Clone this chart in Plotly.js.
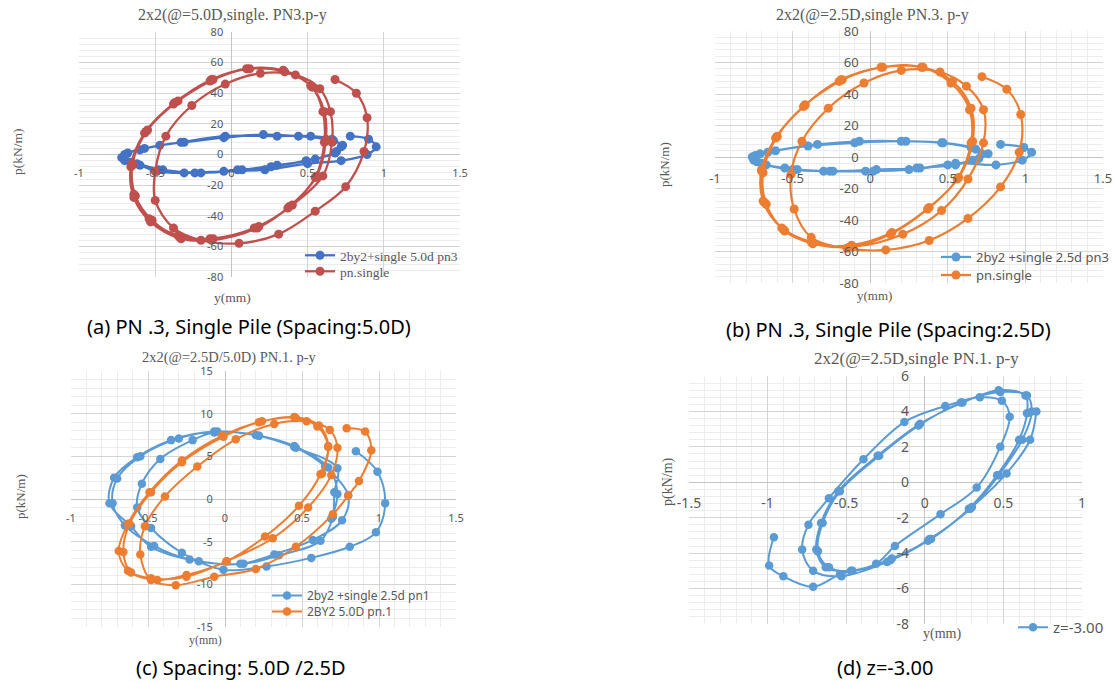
<!DOCTYPE html>
<html>
<head>
<meta charset="utf-8">
<script src="https://cdn.plot.ly/plotly-3.0.1.min.js"></script>
<style>html,body{margin:0;padding:0;background:#fff;}#chart{width:1115px;height:681px;}</style>
</head>
<body>
<div id="chart"></div>
<script>
// ---------- DATA ----------
// Panel (a): 2x2(@=5.0D,single. PN3.p-y
const a_blueName = '2by2+single 5.0d pn3';
const a_blue_x = [0.78,0.9,0.95,0.89,0.72,0.5,0.22,-0.05,-0.31,-0.49,-0.6,-0.7,-0.7,-0.6,-0.47,-0.31,-0.05,0.21,0.44,0.67,0.73,0.69,0.55,0.3,0.07,-0.2,-0.45,-0.62,-0.72,-0.68,-0.57,-0.33,-0.04,0.3,0.52,0.66,0.72,0.68,0.49,0.26,0.04,-0.24,-0.48,-0.66,-0.7];
const a_blue_y = [12,10,5,0,-4,-6,-10,-11,-12,-11,-7,-4,0,3,6,8,11,13,12,9,6,2,-3,-7,-10,-12,-10,-6,-2,1,4,8,12,12,12,10,5,1,-4,-8,-10,-12,-10,-5,-1];
const a_redName = 'pn.single';
const a_red_x = [0.68,0.82,0.89,0.87,0.75,0.55,0.31,0.05,-0.2,-0.38,-0.5,-0.5,-0.43,-0.26,-0.04,0.19,0.42,0.58,0.65,0.66,0.6,0.4,0.18,-0.12,-0.34,-0.52,-0.63,-0.65,-0.56,-0.37,-0.14,0.1,0.34,0.52,0.61,0.62,0.56,0.38,0.17,-0.13,-0.33,-0.53,-0.64,-0.66,-0.57,-0.38,-0.13,0.12,0.35,0.53,0.6,0.61,0.55,0.37,0.15,-0.14,-0.35,-0.54,-0.64,-0.65,-0.55,-0.35,-0.12];
const a_red_y = [49,40,24,2,-21,-37,-52,-58,-56,-48,-30,-11,12,32,46,53,52,43,28,8,-14,-33,-47,-55,-54,-43,-27,-7,15,34,48,56,55,45,28,10,-14,-34,-48,-56,-55,-44,-28,-8,14,33,49,56,54,44,28,8,-15,-35,-48,-55,-53,-42,-26,-6,16,35,49];

// Panel (b): 2x2(@=2.5D,single PN.3. p-y
const b_blueName = '2by2 +single 2.5d pn3';
const b_blue_x = [0.84,0.99,1.04,0.98,0.81,0.55,0.32,0.04,-0.24,-0.47,-0.67,-0.75,-0.71,-0.61,-0.34,-0.07,0.23,0.47,0.68,0.76,0.7,0.55,0.3,0.02,-0.26,-0.5,-0.7,-0.76,-0.66,-0.4,-0.1,0.2,0.46,0.65,0.72,0.66,0.5,0.25,-0.03,-0.3,-0.55,-0.73,-0.74];
const b_blue_y = [8,6,3,-2,-5,-4,-7,-8,-9,-8,-5,-2,2,4,8,10,10,9,5,2,-1,-5,-7,-9,-9,-8,-4,0,3,7,9,10,9,6,2,-2,-5,-8,-9,-9,-7,-3,1];
const b_orangeName = 'pn.single';
const b_orange_x = [0.72,0.88,0.97,0.96,0.84,0.63,0.38,0.1,-0.15,-0.38,-0.49,-0.51,-0.44,-0.27,-0.04,0.2,0.45,0.62,0.73,0.73,0.63,0.46,0.21,-0.11,-0.37,-0.55,-0.67,-0.69,-0.6,-0.42,-0.18,0.08,0.34,0.53,0.65,0.66,0.57,0.38,0.14,-0.12,-0.37,-0.56,-0.68,-0.7,-0.61,-0.43,-0.19,0.07,0.33,0.52,0.64,0.65,0.56,0.37,0.13,-0.13,-0.38,-0.57,-0.69,-0.7,-0.6,-0.42,-0.2];
const b_orange_y = [51,43,27,3,-19,-39,-53,-59,-58,-51,-33,-11,10,31,47,55,54,45,30,9,-14,-34,-49,-57,-55,-47,-30,-10,13,33,49,57,57,48,31,10,-13,-32,-48,-56,-55,-46,-29,-9,12,32,49,57,57,47,30,9,-14,-33,-49,-57,-54,-45,-28,-8,13,33,48];

// Panel (c): 2x2(@=2.5D/5.0D) PN.1. p-y
const c_blueName = '2by2 +single 2.5d pn1';
const c_blue_x = [0.85,0.99,1.04,0.98,0.81,0.56,0.27,-0.01,-0.28,-0.48,-0.57,-0.54,-0.42,-0.21,-0.07,0.22,0.45,0.65,0.8,0.76,0.57,0.32,0.1,-0.17,-0.48,-0.61,-0.75,-0.72,-0.57,-0.35,-0.07,0.22,0.46,0.73,0.71,0.7,0.62,0.35,0.12,-0.23,-0.46,-0.65,-0.73,-0.7,-0.55,-0.3,-0.05,0.2,0.45,0.67,0.73,0.69];
const c_blue_y = [5.6,3.2,-0.5,-3.9,-5.6,-6.9,-7.9,-8.3,-6.3,-3.4,-1,1.8,4.7,6.9,7.8,7.4,6.1,3.8,0.4,-2.5,-4.8,-6.5,-7.6,-7.3,-5.6,-3.2,-0.5,2.5,4.9,6.9,7.9,7.4,6,3.6,0.8,-2.1,-4.9,-6.6,-7.6,-7.1,-5.5,-3.1,-0.5,2.4,5,7.1,7.9,7.5,6.2,3.7,0.6,-2.3];
const c_orangeName = '2BY2 5.0D pn.1';
const c_orange_x = [0.79,0.91,0.95,0.87,0.8,0.7,0.46,0.2,-0.07,-0.32,-0.48,-0.55,-0.52,-0.39,-0.18,0.07,0.32,0.53,0.68,0.73,0.69,0.54,0.31,0.01,-0.25,-0.48,-0.63,-0.69,-0.63,-0.49,-0.28,-0.02,0.24,0.45,0.61,0.67,0.62,0.48,0.26,0.01,-0.25,-0.44,-0.61,-0.66,-0.62,-0.48,-0.28,-0.01,0.22,0.46,0.6,0.67,0.63];
const c_orange_y = [8.3,7.9,5.7,2.1,0.4,-1.8,-5.6,-8.2,-9.1,-10.1,-9.5,-6.5,-3.2,0.3,3.8,7,8.8,9.1,8.1,6,2.8,-1,-4.6,-7.3,-9.1,-9.3,-8.4,-6.1,-2.9,0.8,4.5,7.4,9.1,9.6,8.6,6.2,2.9,-0.8,-4.4,-7.3,-8.9,-9.5,-8.6,-6.2,-2.9,0.8,4.3,7.3,9,9.5,8.5,6.1,3];

// Panel (d): 2x2(@=2.5D,single PN.1. p-y
const d_name = 'z=-3.00';
const d_x = [-0.96,-0.99,-0.9,-0.71,-0.54,-0.31,-0.19,0.1,0.33,0.48,0.54,0.49,0.35,0.13,-0.13,-0.39,-0.61,-0.74,-0.78,-0.71,-0.53,-0.24,0.02,0.28,0.46,0.6,0.65,0.64,0.47,0.24,-0.03,-0.3,-0.55,-0.66,-0.69,-0.63,-0.47,-0.22,0.03,0.29,0.47,0.62,0.68,0.65,0.48,0.23,-0.04,-0.29,-0.54,-0.65,-0.68,-0.61,-0.46,-0.21,0.04,0.3,0.52,0.67,0.71];
const d_y = [-3.1,-4.7,-5.3,-5.9,-5.2,-4.6,-3.6,-1.8,-0.3,2,3.7,4.6,4.8,4.3,3.4,1.3,-0.9,-2.4,-3.8,-5,-5.3,-4.5,-3.3,-1.5,0.4,2.4,3.9,4.9,5.2,4.5,3.3,1.5,-0.5,-2.3,-3.8,-4.8,-5,-4.4,-3.2,-1.5,0.4,2.4,4,4.9,5.1,4.5,3.2,1.5,-0.5,-2.3,-3.9,-4.8,-5,-4.3,-3.2,-1.4,0.5,2.4,4];

// Tick values / labels
const xTicksA = [-1,-0.5,0,0.5,1,1.5];
const xTickTextA = ['-1','-0.5','0','0.5','1','1.5'];
const yTicks80 = [-80,-60,-40,-20,0,20,40,60,80];
const yTickText80 = ['-80','-60','-40','-20','0','20','40','60','80'];
const yTicks15 = [-15,-10,-5,0,5,10,15];
const yTickText15 = ['-15','-10','-5','0','5','10','15'];
const xTicksD = [-1.5,-1,-0.5,0,0.5,1];
const xTickTextD = ['-1.5','-1','-0.5','0','0.5','1'];
const yTicksD = [-8,-6,-4,-2,0,2,4,6];
const yTickTextD = ['-8','-6','-4','-2','0','2','4','6'];

// Text
const titles = ['2x2(@=5.0D,single. PN3.p-y','2x2(@=2.5D,single PN.3. p-y','2x2(@=2.5D/5.0D) PN.1. p-y','2x2(@=2.5D,single PN.1. p-y'];
const captions = ['(a) PN .3, Single Pile (Spacing:5.0D)','(b) PN .3, Single Pile (Spacing:2.5D)','(c) Spacing: 5.0D /2.5D','(d) z=-3.00'];
const xTitle = 'y(mm)';
const yTitle = 'p(kN/m)';

// ---------- LAYOUT ----------
const W = 1115, H = 681;
const SERIF = '"Liberation Serif", "Times New Roman", serif';
const SANS = '"Noto Sans", "Open Sans", sans-serif';
const GREY = '#595959';

const COL_RED = '#C0504D', COL_BLUE_A = '#4472C4', COL_BLUE = '#5B9BD5', COL_ORANGE = '#ED7D31';

function axesFor(box, xr, yr, xt, xtt, yt, ytt, xminor, yminor, fs, xlen, ylen) {
  const y0px = box.t + (yr[1] - 0) / (yr[1] - yr[0]) * (box.b - box.t);
  const x0px = box.l + (0 - xr[0]) / (xr[1] - xr[0]) * (box.r - box.l);
  const common = {
    showgrid: true, gridcolor: '#D4D4D4', gridwidth: 1,
    zeroline: true, zerolinecolor: '#C4C4C4', zerolinewidth: 1,
    showline: false, ticks: 'outside', tickcolor: 'rgba(0,0,0,0)',
    tickfont: {family: SANS, size: fs, color: GREY},
    tickmode: 'array', fixedrange: true, anchor: 'free'
  };
  const xa = Object.assign({}, common, {
    domain: [box.l / W, box.r / W], range: xr, tickvals: xt, ticktext: xtt,
    position: 1 - y0px / H, ticklen: xlen
  });
  const ya = Object.assign({}, common, {
    domain: [1 - box.b / H, 1 - box.t / H], range: yr, tickvals: yt, ticktext: ytt,
    position: x0px / W, ticklen: ylen
  });
  if (xminor) xa.minor = {tickmode: 'linear', tick0: 0, dtick: xminor, showgrid: true, gridcolor: '#ECECEC', ticks: ''};
  if (yminor) ya.minor = {tickmode: 'linear', tick0: 0, dtick: yminor, showgrid: true, gridcolor: '#ECECEC', ticks: ''};
  return [xa, ya];
}

const boxA = {l: 79, r: 460, t: 32, b: 277};
const boxB = {l: 715, r: 1103, t: 31, b: 283};
const boxC = {l: 71, r: 456, t: 371, b: 627};
const boxD = {l: 689, r: 1082, t: 376, b: 624};

const [xa1, ya1] = axesFor(boxA, [-1, 1.5], [-80, 80], xTicksA, xTickTextA, yTicks80, yTickText80, null, 4, 11, 8, 6);
const [xa2, ya2] = axesFor(boxB, [-1, 1.5], [-80, 80], xTicksA, xTickTextA, yTicks80, yTickText80, 0.1, 4, 13, 9, 9);
const [xa3, ya3] = axesFor(boxC, [-1, 1.5], [-15, 15], xTicksA, xTickTextA, yTicks15, yTickText15, 0.1, 1, 11, 9, 10);
const [xa4, ya4] = axesFor(boxD, [-1.5, 1], [-8, 6], xTicksD, xTickTextD, yTicksD, yTickTextD, 0.1, 0.4, 14, 8, 13);

function tr(x, y, name, color, xa, ya, leg, msize, lw) {
  return {
    type: 'scatter', mode: 'lines+markers', x: x, y: y, name: name,
    xaxis: xa, yaxis: ya, legend: leg,
    line: {color: color, width: lw, shape: 'spline', smoothing: 1},
    marker: {color: color, size: msize}
  };
}

const traces = [
  tr(a_blue_x, a_blue_y, a_blueName, COL_BLUE_A, 'x', 'y', 'legend', 9, 2.3),
  tr(a_red_x, a_red_y, a_redName, COL_RED, 'x', 'y', 'legend2', 9, 2.3),
  tr(b_blue_x, b_blue_y, b_blueName, COL_BLUE, 'x2', 'y2', 'legend3', 9, 2.2),
  tr(b_orange_x, b_orange_y, b_orangeName, COL_ORANGE, 'x2', 'y2', 'legend4', 9, 2.2),
  tr(c_blue_x, c_blue_y, c_blueName, COL_BLUE, 'x3', 'y3', 'legend5', 8.5, 2),
  tr(c_orange_x, c_orange_y, c_orangeName, COL_ORANGE, 'x3', 'y3', 'legend6', 8.5, 2),
  tr(d_x, d_y, d_name, COL_BLUE, 'x4', 'y4', 'legend7', 8.5, 2)
];

function ann(text, px, py, size, family, color, angle) {
  const a = {text: text, x: px / W, y: 1 - py / H, xref: 'paper', yref: 'paper',
    xanchor: 'center', yanchor: 'middle', showarrow: false,
    font: {family: family, size: size, color: color}};
  if (angle) a.textangle = angle;
  return a;
}

const annotations = [
  ann(titles[0], 232, 15, 16, SERIF, GREY),
  ann(titles[1], 872, 15, 16, SERIF, GREY),
  ann(titles[2], 229, 357, 14.5, SERIF, GREY),
  ann(titles[3], 916, 358, 17, SERIF, GREY),
  ann(xTitle, 232, 297, 13.5, SERIF, GREY),
  ann(xTitle, 874, 295, 13, SERIF, GREY),
  ann(xTitle, 205, 640, 12, SERIF, GREY),
  ann(xTitle, 942, 634, 14, SERIF, GREY),
  ann(yTitle, 18, 152, 13.5, SERIF, GREY, -90),
  ann(yTitle, 664, 165, 13, SERIF, GREY, -90),
  ann(yTitle, 20, 497, 13, SERIF, GREY, -90),
  ann(yTitle, 668, 482, 14, SERIF, GREY, -90),
  ann(captions[0], 249, 327, 20, SANS, '#000000'),
  ann(captions[1], 888, 329, 20, SANS, '#000000'),
  ann(captions[2], 241, 667, 20, SANS, '#000000'),
  ann(captions[3], 885, 667, 20, SANS, '#000000')
];

function leg(px, py, size, family) {
  return {x: px / W, y: 1 - py / H, xanchor: 'left', yanchor: 'top',
    bgcolor: 'rgba(0,0,0,0)', borderwidth: 0, tracegroupgap: 0,
    font: {family: family, size: size, color: GREY}};
}

const layout = {
  width: W, height: H, margin: {l: 0, r: 0, t: 0, b: 0, pad: 0},
  paper_bgcolor: '#ffffff', plot_bgcolor: '#ffffff', showlegend: true,
  xaxis: xa1, yaxis: ya1, xaxis2: xa2, yaxis2: ya2,
  xaxis3: xa3, yaxis3: ya3, xaxis4: xa4, yaxis4: ya4,
  legend: leg(300, 240, 13.5, SERIF),
  legend2: leg(300, 256, 13.5, SERIF),
  legend3: leg(936, 242, 13, SANS),
  legend4: leg(936, 260, 13, SANS),
  legend5: leg(267, 581, 12, SANS),
  legend6: leg(267, 597, 12, SANS),
  legend7: leg(1013, 611, 15, SANS),
  annotations: annotations
};

Plotly.newPlot('chart', traces, layout, {staticPlot: true, displayModeBar: false});
</script>
</body>
</html>
